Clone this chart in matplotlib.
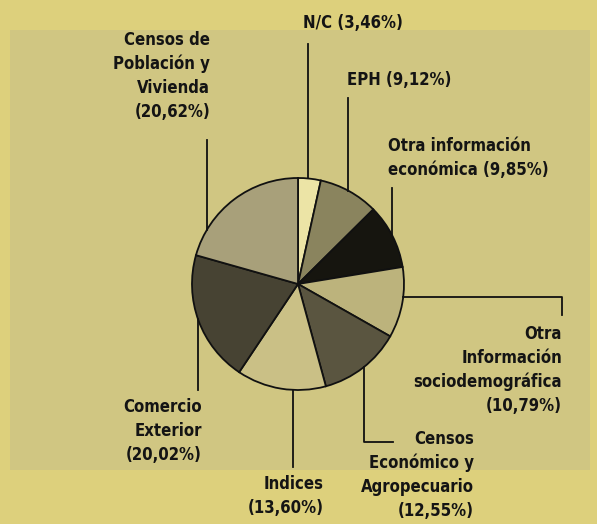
import matplotlib.pyplot as plt
import numpy as np
from matplotlib.patches import Rectangle

# slices, clockwise from 12 o'clock
labels = ['N/C', 'EPH', 'Otra información económica',
          'Otra información sociodemográfica',
          'Censos Económico y Agropecuario', 'Indices',
          'Comercio Exterior', 'Censos de Población y Vivienda']
shares = [3.46, 9.12, 9.85, 10.79, 12.55, 13.60, 20.02, 20.62]
texts = ['N/C (3,46%)', 'EPH (9,12%)', 'Otra información\neconómica (9,85%)',
         'Otra\nInformación\nsociodemográfica\n(10,79%)',
         'Censos\nEconómico y\nAgropecuario\n(12,55%)',
         'Indices\n(13,60%)', 'Comercio\nExterior\n(20,02%)',
         'Censos de\nPoblación y\nVivienda\n(20,62%)']
colors = ['#ECE4A6', '#8A845E', '#16150f', '#BCB37C', '#5A5540',
          '#CAC086', '#474333', '#A8A07A']

W, H = 597, 524
bg = '#DDD07C'
cx, cy, r = 298, H - 284, 106

plt.rcParams['font.family'] = ['DejaVu Sans']

fig = plt.figure(figsize=(W / 100, H / 100), dpi=100, facecolor=bg)
ax = fig.add_axes([0, 0, 1, 1])

# stippled panel behind the chart
ax.add_patch(Rectangle((10, H - 470), 580, 440, facecolor='#D0C682',
                       edgecolor='none', zorder=0))

ax.pie(shares, colors=colors, startangle=90, counterclock=False,
       center=(cx, cy), radius=r, frame=True,
       wedgeprops=dict(edgecolor='#111111', linewidth=1.3))
ax.set_xlim(0, W)
ax.set_ylim(0, H)
ax.axis('off')


def on_circle(x, upper=True):
    dy = np.sqrt(max(r ** 2 - (x - cx) ** 2, 0))
    return cy + dy if upper else cy - dy


# leader lines (pixel layout, y measured from the top)
lk = dict(color='#111111', lw=1.3, zorder=5)
ax.plot([308, 308], [H - 44, on_circle(308)], **lk)
ax.plot([348, 348], [H - 98, on_circle(348)], **lk)
ax.plot([392, 392], [H - 188, on_circle(392)], **lk)
ax.plot([403, 562, 562], [H - 297, H - 297, H - 315], **lk)
ax.plot([364, 364, 393], [on_circle(364, False), H - 442, H - 442], **lk)
ax.plot([293, 293], [on_circle(293, False), H - 467], **lk)
ax.plot([198, 198], [on_circle(198, False), H - 390], **lk)
ax.plot([207, 207], [H - 140, on_circle(207)], **lk)

tk = dict(fontsize=12, fontweight='bold', fontstretch='condensed',
          color='#141414', linespacing=1.42, zorder=6)
pos = [(303, 23, 'left', 'center'),
       (347, 80, 'left', 'center'),
       (388, 158, 'left', 'center'),
       (562, 370, 'right', 'center'),
       (474, 475, 'right', 'center'),
       (324, 496, 'right', 'center'),
       (202, 431, 'right', 'center'),
       (210, 76, 'right', 'center')]
for t, (x, y, ha, va) in zip(texts, pos):
    ax.text(x, H - y, t, ha=ha, va=va, multialignment=ha, **tk)

fig.savefig('out.png', dpi=100, facecolor=bg)
